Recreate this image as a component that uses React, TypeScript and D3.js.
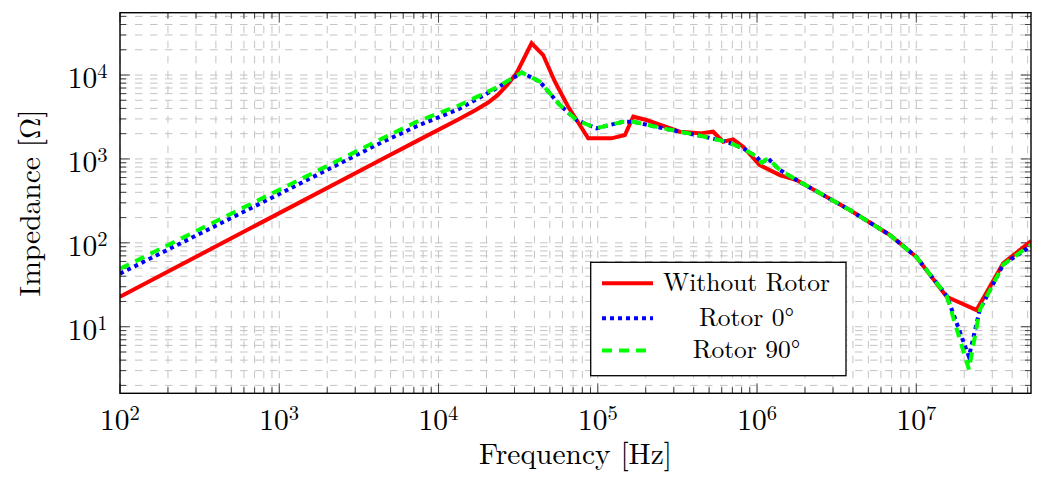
import React from 'react';
import * as d3 from 'd3';

// ---- data ----
const xTickExps = [2, 3, 4, 5, 6, 7];
const yTickExps = [1, 2, 3, 4];

const withoutRotorFreq = [100, 1000, 4290, 7280, 13300, 17000, 20500, 23500, 27000, 30900, 38400, 45400, 53800, 65200, 87100, 103000, 122000, 148000, 167000, 202000, 327000, 437000, 530000, 612000, 708000, 818000, 1040000, 1390000, 1770000, 3820000, 6820000, 10000000, 15500000, 23900000, 35100000, 52500000];
const withoutRotorZ = [22.8, 226, 965, 1630, 2950, 3800, 4700, 5750, 7600, 10500, 23900, 17300, 8320, 4190, 1758, 1758, 1758, 1927, 3185, 2910, 2110, 2017, 2110, 1603, 1710, 1397, 845, 642, 561, 246, 124, 68, 22.8, 15.8, 57, 105];

const rotor0Freq = [100, 1000, 4290, 7280, 13300, 23100, 33300, 43300, 57800, 73600, 98000, 144000, 167000, 257000, 417000, 643000, 818000, 993000, 1070000, 1170000, 1390000, 1770000, 3820000, 6820000, 10000000, 15500000, 21400000, 25000000, 35100000, 52500000];
const rotor0Z = [43, 382, 1540, 2450, 3900, 6935, 10700, 8320, 4385, 2910, 2317, 2773, 2773, 2317, 1927, 1603, 1336, 1062, 900, 1016, 738, 561, 246, 124, 68, 23.5, 4.4, 15.8, 55, 92];

const rotor90Freq = [100, 1000, 4290, 7280, 13300, 23100, 33300, 43300, 57800, 73600, 98000, 144000, 167000, 257000, 417000, 643000, 818000, 993000, 1070000, 1170000, 1390000, 1770000, 3820000, 6820000, 10000000, 15500000, 21400000, 25000000, 35100000, 52500000];
const rotor90Z = [49, 428, 1700, 2773, 4300, 7100, 10700, 8320, 4385, 2910, 2317, 2773, 2773, 2317, 1927, 1603, 1336, 1062, 900, 1016, 738, 561, 246, 124, 68, 23.5, 3.1, 15.8, 55, 95];

const seriesNames = ['Without Rotor', 'Rotor 0°', 'Rotor 90°'];

const FONT = "'Latin Modern Roman', 'Liberation Serif', serif";

export default function App() {
  const W = 1038, H = 480;
  const left = 120, right = 1031, top = 12.7, bottom = 393.3;
  const x = d3.scaleLog().domain([100, 5.25e7]).range([left, right]);
  const y = d3.scaleLog().domain([1.61, 5.53e4]).range([bottom, top]);

  const [xMin, xMax] = x.domain();
  const [yMin, yMax] = y.domain();
  const xPos: { v: number; major: boolean }[] = [];
  for (let e = 1; e <= 8; e++) for (let m = 1; m <= 9; m++) {
    const v = m * Math.pow(10, e);
    if (v >= xMin * 0.999 && v <= xMax * 1.001) xPos.push({ v, major: m === 1 });
  }
  const yPos: { v: number; major: boolean }[] = [];
  for (let e = 0; e <= 5; e++) for (let m = 1; m <= 9; m++) {
    const v = m * Math.pow(10, e);
    if (v >= yMin && v <= yMax) yPos.push({ v, major: m === 1 });
  }

  const line = d3.line<[number, number]>().x(d => x(d[0])).y(d => y(d[1]));
  const series = [
    { name: seriesNames[0], data: withoutRotorFreq.map((f, i) => [f, withoutRotorZ[i]] as [number, number]), color: '#ff0000', dash: undefined as string | undefined, width: 4 },
    { name: seriesNames[1], data: rotor0Freq.map((f, i) => [f, rotor0Z[i]] as [number, number]), color: '#0000ff', dash: '4 4', width: 4 },
    { name: seriesNames[2], data: rotor90Freq.map((f, i) => [f, rotor90Z[i]] as [number, number]), color: '#00ff00', dash: '10 7', width: 4 },
  ];

  const gridColor = '#c4c4c4';
  const tickColor = '#333';
  const majLen = 10, minLen = 6;

  const legX = 590.7, legY = 262.3, legW = 255.3, legH = 113.4;
  const rowY = [283.3, 318.3, 350.5];
  const txt = { fontFamily: FONT };

  return (
    <div style={{ position: 'absolute', left: 0, top: 0 }}>
      <svg width={W} height={H} style={{ display: 'block', background: '#fff' }}>
        <defs>
          <clipPath id="plotclip">
            <rect x={left} y={top} width={right - left} height={bottom - top} />
          </clipPath>
        </defs>
        {/* grid */}
        <g stroke={gridColor} strokeWidth={1} strokeDasharray="7.5 7.5">
          {xPos.map((t, i) => (
            <line key={'gx' + i} x1={x(t.v)} x2={x(t.v)} y1={bottom} y2={top} />
          ))}
          {yPos.map((t, i) => (
            <line key={'gy' + i} x1={left} x2={right} y1={y(t.v)} y2={y(t.v)} />
          ))}
        </g>
        {/* ticks */}
        <g stroke={tickColor} strokeWidth={0.9}>
          {xPos.map((t, i) => {
            const L = t.major ? majLen : minLen;
            const px = x(t.v);
            return (
              <g key={'tx' + i}>
                <line x1={px} x2={px} y1={bottom} y2={bottom - L} />
                <line x1={px} x2={px} y1={top} y2={top + L} />
              </g>
            );
          })}
          {yPos.map((t, i) => {
            const L = t.major ? majLen : minLen;
            const py = y(t.v);
            return (
              <g key={'ty' + i}>
                <line x1={left} x2={left + L} y1={py} y2={py} />
                <line x1={right} x2={right - L} y1={py} y2={py} />
              </g>
            );
          })}
        </g>
        {/* series */}
        <g clipPath="url(#plotclip)" fill="none">
          {series.map(s => (
            <path key={s.name} d={line(s.data) || ''} stroke={s.color} strokeWidth={s.width}
              strokeDasharray={s.dash} strokeLinejoin="miter" strokeLinecap="butt" />
          ))}
        </g>
        {/* frame */}
        <rect x={left} y={top} width={right - left} height={bottom - top} fill="none" stroke="#000" strokeWidth={1.4} />
        {/* x tick labels */}
        {xTickExps.map(e => (
          <text key={'xl' + e} style={txt} x={x(Math.pow(10, e))} y={430} textAnchor="middle" fontSize={29.5} fill="#000">
            <tspan>10</tspan>
            <tspan dy={-10.5} fontSize={20.6}>{e}</tspan>
          </text>
        ))}
        {/* y tick labels */}
        {yTickExps.map(e => (
          <text key={'yl' + e} style={txt} x={107.5} y={y(Math.pow(10, e)) + 13.3} textAnchor="end" fontSize={29.5} fill="#000">
            <tspan>10</tspan>
            <tspan dy={-10} fontSize={20.6}>{e}</tspan>
          </text>
        ))}
        {/* axis labels */}
        <text style={txt} x={(left + right) / 2} y={464} textAnchor="middle" fontSize={29.5} fill="#000">Frequency [Hz]</text>
        <text style={txt} transform={`translate(40, ${(top + bottom) / 2}) rotate(-90)`} textAnchor="middle" fontSize={29.5} fill="#000">Impedance [Ω]</text>
        {/* legend */}
        <rect x={legX} y={legY} width={legW} height={legH} fill="#fff" stroke="#000" strokeWidth={1.3} />
        {series.map((s, i) => (
          <g key={'lg' + i}>
            <line x1={602} x2={653} y1={rowY[i]} y2={rowY[i]} stroke={s.color} strokeWidth={s.width} strokeDasharray={s.dash} />
            <text style={txt} x={746.5} y={rowY[i] + 7.5} textAnchor="middle" fontSize={25.5} fill="#000">{s.name}</text>
          </g>
        ))}
      </svg>
    </div>
  );
}
